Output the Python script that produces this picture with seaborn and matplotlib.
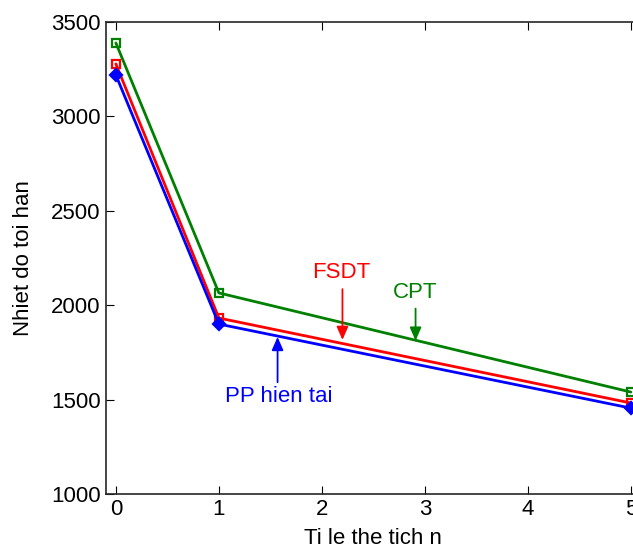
import pandas as pd
import matplotlib
matplotlib.use("Agg")
import matplotlib.pyplot as plt
import seaborn as sns

sns.set_style("ticks")
plt.rcParams['font.family'] = ['Liberation Sans', 'DejaVu Sans']
plt.rcParams['text.color'] = 'black'

# Ti le the tich n
n_values = [0, 1, 5]
cpt = [3389, 2065, 1540]
fsdt = [3278, 1932, 1482]
pp_hien_tai = [3219, 1900, 1455]

series = [
    ("CPT", cpt, "#008000", "s", "none"),
    ("FSDT", fsdt, "#ff0000", "s", "none"),
    ("PP hien tai", pp_hien_tai, "#0000ff", "D", "#0000ff"),
]

fig = plt.figure(figsize=(6.33, 5.53), dpi=100)
ax = fig.add_axes([0.1668, 0.1067, 0.846, 0.8535])

for name, vals, color, marker, mfc in series:
    df = pd.DataFrame({"n": n_values, "T": vals})
    sns.lineplot(data=df, x="n", y="T", ax=ax, color=color, linewidth=2,
                 marker=marker, markersize=6, markerfacecolor=mfc,
                 markeredgecolor=color, markeredgewidth=1.6)

# labels + arrows
labels = [
    ("FSDT", "#ff0000", (2.19, 2172), (2.2, 2085), (2.2, 1816)),
    ("CPT", "#008000", (2.91, 2065), (2.91, 1982), (2.91, 1812)),
    ("PP hien tai", "#0000ff", (1.58, 1514), (1.57, 1592), (1.57, 1832)),
]
for txt, color, tpos, a0, a1 in labels:
    ax.text(tpos[0], tpos[1], txt, color=color, fontsize=16,
            ha="center", va="center")
    ax.annotate("", xy=a1, xytext=a0,
                arrowprops=dict(arrowstyle="-|>,head_length=0.8,head_width=0.35",
                                color=color, lw=1.3, mutation_scale=10,
                                shrinkA=0, shrinkB=0))

ax.set_xlim(-0.1, 5.1)
ax.set_ylim(1000, 3500)
ax.set_xticks([0, 1, 2, 3, 4, 5])
ax.set_yticks([1000, 1500, 2000, 2500, 3000, 3500])
ax.tick_params(direction="in", top=True, right=True, labelsize=16, length=6,
               colors="black", labelcolor="black")
for s in ax.spines.values():
    s.set_linewidth(1.2)
    s.set_color("#262626")
ax.set_xlabel("Ti le the tich n", fontsize=16, color="black", labelpad=6)
ax.set_ylabel("Nhiet do toi han", fontsize=16, color="black", labelpad=12)

fig.savefig("out.png", dpi=100)
